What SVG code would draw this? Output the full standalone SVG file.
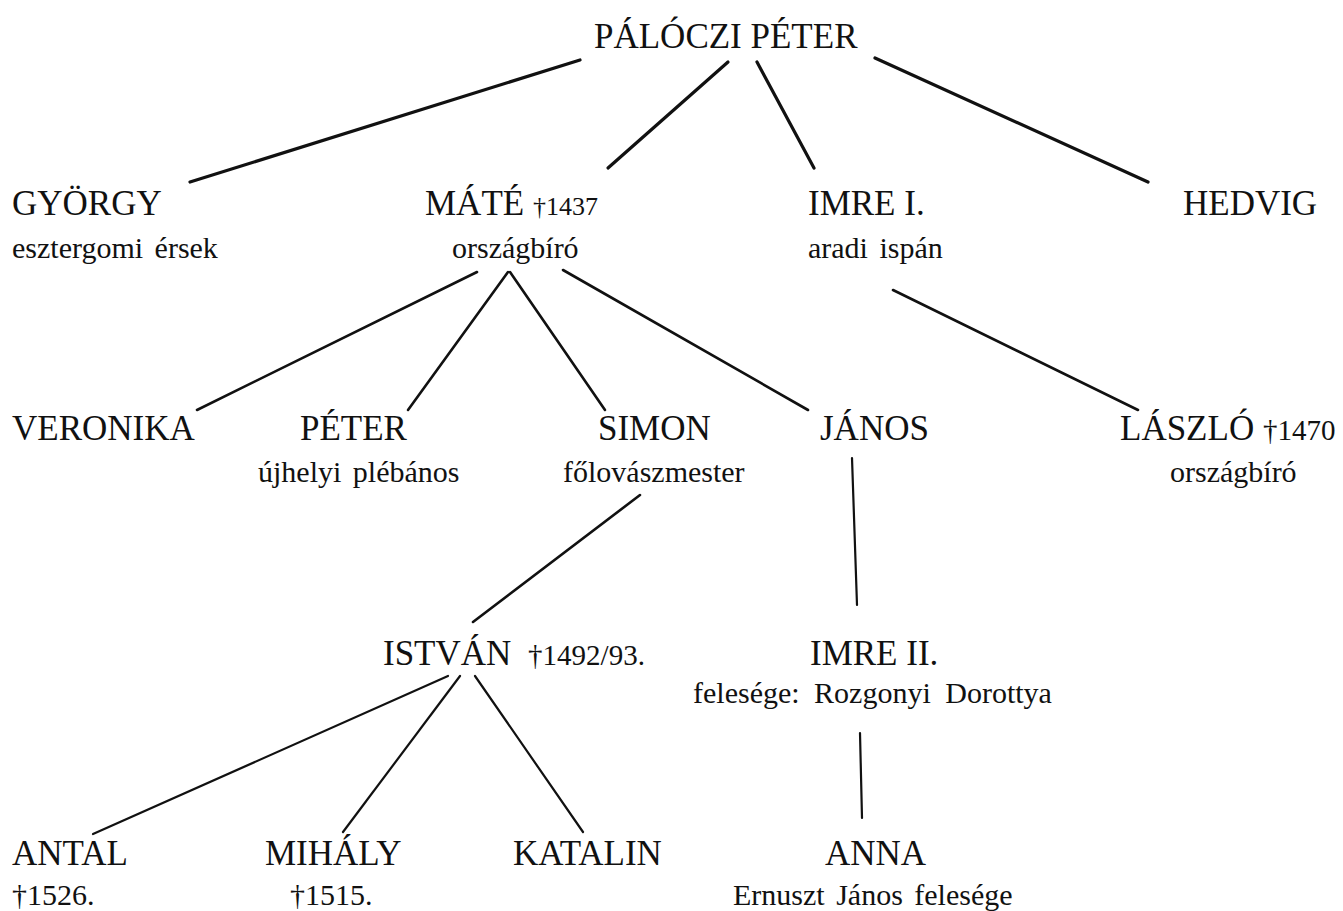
<svg xmlns="http://www.w3.org/2000/svg" width="1343" height="911" viewBox="0 0 1343 911">
<style>
text{font-family:"Liberation Serif","Times New Roman",serif;fill:#111}
.n{font-size:35px}
.s{font-size:30px;word-spacing:4px}
.d{font-size:29px}
.c line{stroke:#111;stroke-linecap:round}
.t{stroke-width:3.2}
.m{stroke-width:2.6}
.l{stroke-width:2.2}
</style>
<rect width="1343" height="911" fill="#fff"/>
<g class="c" id="connectors">
<line class="t" x1="580" y1="60" x2="190" y2="182"/>
<line class="t" x1="728" y1="62" x2="608" y2="168"/>
<line class="t" x1="757" y1="62" x2="814" y2="168"/>
<line class="t" x1="875" y1="58" x2="1148" y2="182"/>
<line class="m" x1="477" y1="272" x2="197" y2="410"/>
<line class="m" x1="508" y1="272" x2="408" y2="410"/>
<line class="m" x1="510" y1="272" x2="605" y2="410"/>
<line class="m" x1="563" y1="270" x2="808" y2="410"/>
<line class="m" x1="893" y1="290" x2="1138" y2="410"/>
<line class="m" x1="640" y1="495" x2="473" y2="622"/>
<line class="l" x1="852" y1="458" x2="857" y2="605"/>
<line class="l" x1="448" y1="676" x2="93" y2="834"/>
<line class="l" x1="460" y1="676" x2="343" y2="832"/>
<line class="l" x1="475" y1="676" x2="583" y2="832"/>
<line class="l" x1="860" y1="733" x2="862" y2="818"/>
</g>
<g id="paloczi-peter"><text class="n" x="594" y="48">PÁLÓCZI PÉTER</text></g>
<g id="gyorgy"><text class="n" x="12" y="215">GYÖRGY</text><text class="s" x="12" y="258">esztergomi érsek</text></g>
<g id="mate"><text class="n" x="425" y="215">MÁTÉ <tspan style="font-size:26px">†1437</tspan></text><text class="s" x="452" y="258">országbíró</text></g>
<g id="imre1"><text class="n" x="808" y="215">IMRE I.</text><text class="s" x="808" y="258">aradi ispán</text></g>
<g id="hedvig"><text class="n" x="1183" y="215">HEDVIG</text></g>
<g id="veronika"><text class="n" x="12" y="440">VERONIKA</text></g>
<g id="peter"><text class="n" x="300" y="440">PÉTER</text><text class="s" x="258" y="482">újhelyi plébános</text></g>
<g id="simon"><text class="n" x="598" y="440">SIMON</text><text class="s" x="563" y="482">főlovászmester</text></g>
<g id="janos"><text class="n" x="820" y="440">JÁNOS</text></g>
<g id="laszlo"><text class="n" x="1120" y="440">LÁSZLÓ <tspan class="d">†1470</tspan></text><text class="s" x="1170" y="482">országbíró</text></g>
<g id="istvan"><text class="n" x="383" y="665" style="word-spacing:8px">ISTVÁN <tspan class="d">†1492/93.</tspan></text></g>
<g id="imre2"><text class="n" x="810" y="665">IMRE II.</text><text class="s" x="693" y="703" style="word-spacing:7px">felesége: Rozgonyi Dorottya</text></g>
<g id="antal"><text class="n" x="12" y="865">ANTAL</text><text class="s" x="12" y="905">†1526.</text></g>
<g id="mihaly"><text class="n" x="265" y="865">MIHÁLY</text><text class="s" x="290" y="905">†1515.</text></g>
<g id="katalin"><text class="n" x="513" y="865">KATALIN</text></g>
<g id="anna"><text class="n" x="825" y="865">ANNA</text><text class="s" x="733" y="905">Ernuszt János felesége</text></g>
</svg>
